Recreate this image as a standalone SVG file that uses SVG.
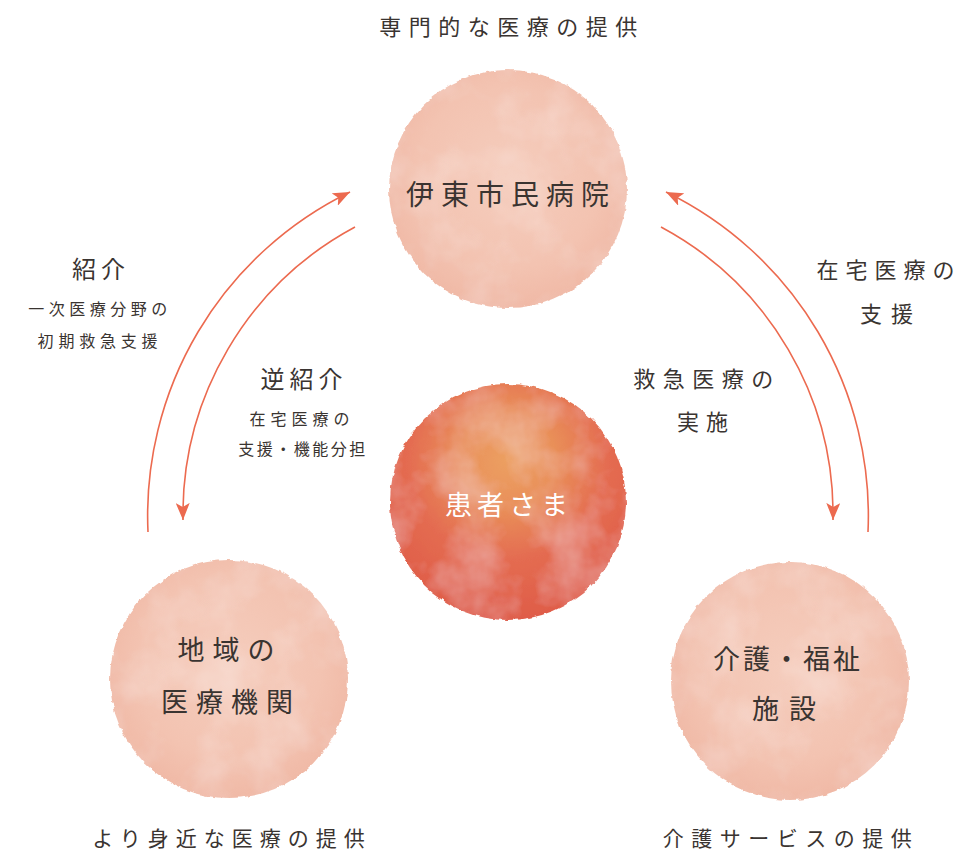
<svg xmlns="http://www.w3.org/2000/svg" width="979" height="852" viewBox="0 0 979 852">
<defs>
<style>
.t{font-family:"Noto Sans CJK JP","Noto Sans",sans-serif;fill:#3a3431;text-anchor:middle;dominant-baseline:central}
.conn{fill:none;stroke:#ec6a4f;stroke-width:1.6}
</style>
<marker id="ah" markerUnits="userSpaceOnUse" markerWidth="18" markerHeight="14" refX="17" refY="7" orient="auto" viewBox="0 0 18 14">
<path d="M0,0 L17,7 L0,14 L4,7 Z" fill="#ec6a4f"/>
</marker>
<radialGradient id="pink" cx="0.5" cy="0.45" r="0.55">
<stop offset="0" stop-color="#f5cdbd"/>
<stop offset="0.7" stop-color="#f3c3b1"/>
<stop offset="1" stop-color="#f0b9a6"/>
</radialGradient>
<radialGradient id="red" cx="0.5" cy="0.32" r="0.68">
<stop offset="0" stop-color="#eca062"/>
<stop offset="0.3" stop-color="#e98f59"/>
<stop offset="0.62" stop-color="#e46c51"/>
<stop offset="1" stop-color="#df5c48"/>
</radialGradient>
<filter id="wc" x="-10%" y="-10%" width="120%" height="120%">
<feTurbulence type="fractalNoise" baseFrequency="0.12" numOctaves="3" seed="4" result="n"/>
<feDisplacementMap in="SourceGraphic" in2="n" scale="4" xChannelSelector="R" yChannelSelector="G" result="d"/>
<feTurbulence type="fractalNoise" baseFrequency="0.02" numOctaves="4" seed="9" result="n2"/>
<feColorMatrix in="n2" type="matrix" values="0 0 0 0 1  0 0 0 0 1  0 0 0 0 1  0 0 0 0.45 -0.18" result="w"/>
<feComposite in="w" in2="d" operator="in" result="wi"/>
<feMerge><feMergeNode in="d"/><feMergeNode in="wi"/></feMerge>
</filter>
</defs>
<rect width="979" height="852" fill="#ffffff"/>

<g id="connectors">
<path class="conn" d="M148,532 A360,360 0 0 1 350,192" marker-end="url(#ah)"/>
<path class="conn" d="M355,227 A326,326 0 0 0 183,520" marker-end="url(#ah)"/>
<path class="conn" d="M868,532 A360,360 0 0 0 666,192" marker-end="url(#ah)"/>
<path class="conn" d="M661,227 A326,326 0 0 1 833,520" marker-end="url(#ah)"/>
</g>

<g id="node-hospital">
<circle cx="508" cy="189" r="119" fill="url(#pink)" filter="url(#wc)"/>
<text class="t" x="511" y="193" font-size="28" letter-spacing="7">伊東市民病院</text>
<text class="t" x="512" y="25" font-size="22" letter-spacing="7.5">専門的な医療の提供</text>
</g>

<g id="node-patient">
<circle cx="508" cy="502" r="118" fill="url(#red)" filter="url(#wc)"/>
<text class="t" x="509" y="503" font-size="27" letter-spacing="5" style="fill:#ffffff">患者さま</text>
</g>

<g id="node-local">
<circle cx="229" cy="679" r="119" fill="url(#pink)" filter="url(#wc)"/>
<text class="t" x="230" y="648" font-size="27" letter-spacing="8">地域の</text>
<text class="t" x="231" y="700" font-size="27" letter-spacing="8">医療機関</text>
<text class="t" x="232" y="837" font-size="21" letter-spacing="7">より身近な医療の提供</text>
</g>

<g id="node-care">
<circle cx="790" cy="681" r="119" fill="url(#pink)" filter="url(#wc)"/>
<text class="t" x="788" y="657" font-size="27" letter-spacing="3">介護・福祉</text>
<text class="t" x="789" y="707" font-size="27" letter-spacing="10">施設</text>
<text class="t" x="791" y="837" font-size="21" letter-spacing="7.5">介護サービスの提供</text>
</g>

<g id="labels">
<text class="t" x="101" y="267" font-size="24" letter-spacing="5">紹介</text>
<text class="t" x="100" y="308" font-size="16" letter-spacing="4.5">一次医療分野の</text>
<text class="t" x="100" y="340" font-size="16" letter-spacing="4.8">初期救急支援</text>
<text class="t" x="304" y="377" font-size="24" letter-spacing="5">逆紹介</text>
<text class="t" x="302" y="418" font-size="16" letter-spacing="5">在宅医療の</text>
<text class="t" x="303" y="448" font-size="16" letter-spacing="2.5">支援・機能分担</text>
<text class="t" x="889" y="268" font-size="22" letter-spacing="7">在宅医療の</text>
<text class="t" x="891" y="312" font-size="22" letter-spacing="9">支援</text>
<text class="t" x="707" y="377" font-size="22" letter-spacing="7.5">救急医療の</text>
<text class="t" x="706" y="420" font-size="22" letter-spacing="7">実施</text>
</g>
</svg>
